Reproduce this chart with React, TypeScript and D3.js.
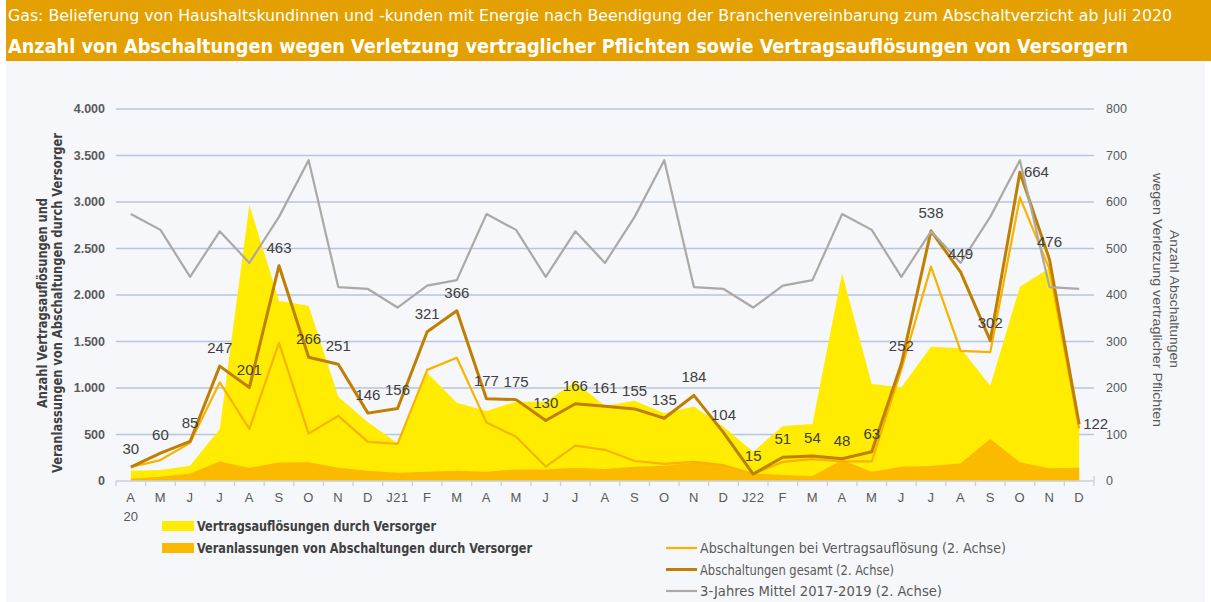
import * as d3 from 'd3';

// months Apr 2020 .. Dec 2022
const months = ['A', 'M', 'J', 'J', 'A', 'S', 'O', 'N', 'D', 'J21', 'F', 'M', 'A', 'M', 'J', 'J', 'A', 'S', 'O', 'N', 'D', 'J22', 'F', 'M', 'A', 'M', 'J', 'J', 'A', 'S', 'O', 'N', 'D'];

// left axis
const vertragsaufloesungen = [111, 118, 165, 559, 2968, 1935, 1885, 907, 631, 405, 1165, 842, 753, 853, 853, 1065, 806, 864, 728, 800, 584, 315, 591, 613, 2233, 1043, 1007, 1444, 1427, 1025, 2090, 2290, 567];
const veranlassungen = [25, 46, 80, 210, 143, 199, 201, 143, 111, 90, 100, 111, 100, 125, 125, 143, 129, 154, 165, 197, 172, 83, 64, 54, 226, 100, 154, 161, 190, 452, 201, 136, 143];

// right axis
const abschaltungenVertrag = [30, 45, 82, 212, 112, 297, 102, 140, 84, 80, 239, 265, 126, 95, 31, 76, 67, 43, 37, 41, 34, 15, 41, 47, 42, 42, 240, 461, 280, 277, 610, 455, 113];
const abschaltungenGesamt = [30, 60, 85, 247, 201, 463, 266, 251, 146, 156, 321, 366, 177, 175, 130, 166, 161, 155, 135, 184, 104, 15, 51, 54, 48, 63, 252, 538, 449, 302, 664, 476, 122];
const mittel = [574, 540, 439, 537, 469, 568, 690, 417, 413, 373, 420, 432, 574, 540, 439, 537, 469, 568, 690, 417, 413, 373, 420, 432, 574, 540, 439, 537, 469, 568, 690, 417, 413];

const leftTicks = [0, 500, 1000, 1500, 2000, 2500, 3000, 3500, 4000];
const rightTicks = [0, 100, 200, 300, 400, 500, 600, 700, 800];

const C = {
  band: '#E4A000',
  bg: '#F5F7FA',
  yellow: '#FFEC00',
  orange: '#FBBA00',
  orangeLine: '#F9B200',
  gesamt: '#C07F00',
  gray: '#ACA8A6',
  grid: '#B8C5DA',
  text: '#595959',
  dark: '#404040',
};

const narrow = '"Liberation Sans Narrow", "DejaVu Sans Condensed", "Roboto Condensed", sans-serif';
const sans = '"Liberation Sans", Arial, sans-serif';

const W = 1211;
const H = 602;
const left = 116;
const right = 1094;
const top = 109;
const bottom = 481;

const labelRight = new Set([30, 32]);

const fmt = (v: number) => d3.format(',')(v).replace(/,/g, '.');

export default function App() {
  const idx = months.map((_, i) => i);
  const x = d3.scaleBand<number>().domain(idx).range([left, right]);
  const cx = (i: number) => (x(i) as number) + x.bandwidth() / 2;
  const yL = d3.scaleLinear().domain([0, 4000]).range([bottom, top]);
  const yR = d3.scaleLinear().domain([0, 800]).range([bottom, top]);

  const areaL = (vals: number[]) =>
    d3.area<number>().x((_, i) => cx(i)).y0(yL(0)).y1(d => yL(d))(vals) as string;
  const lineR = (vals: number[]) =>
    d3.line<number>().x((_, i) => cx(i)).y(d => yR(d))(vals) as string;

  return (
    <>
      <style>{'body{margin:0}'}</style>
      <svg width={W} height={H} style={{ position: 'absolute', left: 0, top: 0, display: 'block' }}>
        <rect x={6} y={61} width={1199} height={H - 61} fill={C.bg} />
        <rect x={6} y={0} width={W - 6} height={61} fill={C.band} />
        <text x={8} y={21} fill="#fff" fontFamily={narrow} fontSize={15.5} textLength={1164} lengthAdjust="spacingAndGlyphs">
          Gas: Belieferung von Haushaltskundinnen und -kunden mit Energie nach Beendigung der Branchenvereinbarung zum Abschaltverzicht ab Juli 2020
        </text>
        <text x={8} y={53} fill="#fff" fontFamily={narrow} fontSize={20} fontWeight="bold" textLength={1120} lengthAdjust="spacingAndGlyphs">
          Anzahl von Abschaltungen wegen Verletzung vertraglicher Pflichten sowie Vertragsauflösungen von Versorgern
        </text>

        {/* grid */}
        {leftTicks.filter(t => t > 0).map(t => (
          <line key={t} x1={left} x2={right} y1={yL(t)} y2={yL(t)} stroke={C.grid} strokeWidth={1.3} />
        ))}

        {/* areas */}
        <path d={areaL(vertragsaufloesungen)} fill={C.yellow} />
        <path d={areaL(veranlassungen)} fill={C.orange} />

        {/* x axis */}
        <line x1={left} x2={right} y1={bottom} y2={bottom} stroke="#C9D0DC" strokeWidth={1.5} />
        {idx.concat([months.length]).map(i => {
          const xx = i < months.length ? (x(i) as number) : right;
          return <line key={i} x1={xx} x2={xx} y1={bottom} y2={bottom + 5} stroke="#C9D0DC" strokeWidth={1.3} />;
        })}
        <line x1={right} x2={right} y1={bottom - 5} y2={bottom} stroke="#C9D0DC" strokeWidth={1.3} />
        {months.map((m, i) => (
          <text key={i} x={cx(i)} y={502} textAnchor="middle" fill={C.text} fontFamily={sans} fontSize={13} letterSpacing={0.5}>
            {m}
          </text>
        ))}
        <text x={cx(0)} y={521} textAnchor="middle" fill={C.text} fontFamily={sans} fontSize={13}>20</text>

        {/* y axes */}
        {leftTicks.map(t => (
          <text key={t} x={105} y={yL(t)} dy="0.35em" textAnchor="end" fill={C.text} fontFamily={sans} fontSize={12.5} fontWeight="bold">
            {fmt(t)}
          </text>
        ))}
        {rightTicks.map(t => (
          <text key={t} x={1106} y={yR(t)} dy="0.35em" fill={C.text} fontFamily={sans} fontSize={12.5}>
            {t}
          </text>
        ))}
        <g transform="translate(47,303) rotate(-90)">
          <text textAnchor="middle" fill={C.dark} fontFamily={narrow} fontSize={14} fontWeight="bold" textLength={210} lengthAdjust="spacingAndGlyphs">
            Anzahl Vertragsauflösungen und
          </text>
        </g>
        <g transform="translate(62,303) rotate(-90)">
          <text textAnchor="middle" fill={C.dark} fontFamily={narrow} fontSize={14} fontWeight="bold" textLength={340} lengthAdjust="spacingAndGlyphs">
            Veranlassungen von Abschaltungen durch Versorger
          </text>
        </g>
        <g transform="translate(1170,299) rotate(90)">
          <text textAnchor="middle" fill={C.text} fontFamily={sans} fontSize={13} textLength={138} lengthAdjust="spacingAndGlyphs">
            Anzahl Abschaltungen
          </text>
        </g>
        <g transform="translate(1153,300) rotate(90)">
          <text textAnchor="middle" fill={C.text} fontFamily={sans} fontSize={13} textLength={254} lengthAdjust="spacingAndGlyphs">
            wegen Verletzung vertraglicher Pflichten
          </text>
        </g>

        {/* lines */}
        <path d={lineR(abschaltungenVertrag)} fill="none" stroke={C.orangeLine} strokeWidth={2.2} strokeLinejoin="round" />
        <path d={lineR(abschaltungenGesamt)} fill="none" stroke={C.gesamt} strokeWidth={3} strokeLinejoin="round" />
        <path d={lineR(mittel)} fill="none" stroke={C.gray} strokeWidth={2.2} strokeLinejoin="round" />

        {/* data labels */}
        {abschaltungenGesamt.map((v, i) => {
          const r = labelRight.has(i);
          return (
            <text
              key={i}
              x={r ? cx(i) + 4 : cx(i)}
              y={r ? yR(v) + 5 : yR(v) - 13}
              textAnchor={r ? 'start' : 'middle'}
              fill={C.dark}
              fontFamily={sans}
              fontSize={15}
            >
              {v}
            </text>
          );
        })}

        {/* legend */}
        <rect x={162} y={521} width={32} height={10} fill={C.yellow} />
        <text x={197} y={531} fill={C.dark} fontFamily={narrow} fontSize={14.5} fontWeight="bold" textLength={239} lengthAdjust="spacingAndGlyphs">
          Vertragsauflösungen durch Versorger
        </text>
        <rect x={162} y={543} width={32} height={10} fill={C.orange} />
        <text x={197} y={553} fill={C.dark} fontFamily={narrow} fontSize={14.5} fontWeight="bold" textLength={335} lengthAdjust="spacingAndGlyphs">
          Veranlassungen von Abschaltungen durch Versorger
        </text>

        {[
          { label: 'Abschaltungen bei Vertragsauflösung (2. Achse)', color: C.orangeLine, w: 2.2, len: 306 },
          { label: 'Abschaltungen gesamt (2. Achse)', color: C.gesamt, w: 3, len: 194 },
          { label: '3-Jahres Mittel 2017-2019 (2. Achse)', color: C.gray, w: 2.2, len: 242 },
        ].map((d, k) => {
          const yy = 548 + k * 21.5;
          return (
            <g key={k}>
              <line x1={666} x2={697} y1={yy} y2={yy} stroke={d.color} strokeWidth={d.w} />
              <text x={700} y={yy + 5} fill={C.text} fontFamily={narrow} fontSize={14.5} textLength={d.len} lengthAdjust="spacingAndGlyphs">
                {d.label}
              </text>
            </g>
          );
        })}
      </svg>
    </>
  );
}
